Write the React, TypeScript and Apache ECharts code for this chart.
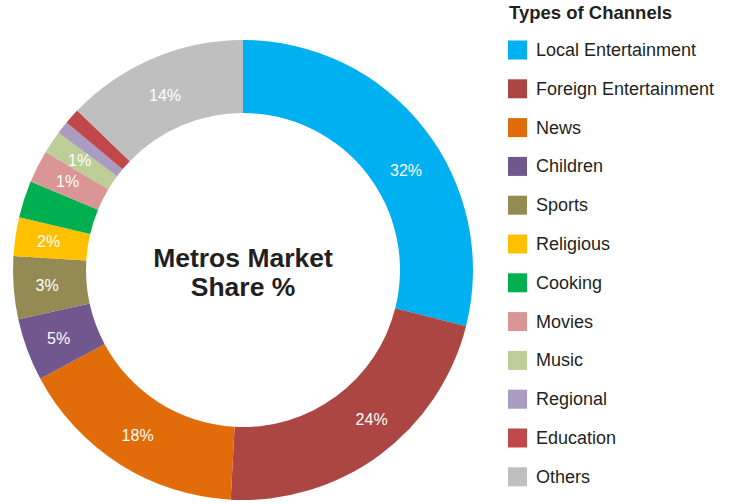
import React, { useEffect, useRef } from "react";
import * as echarts from "echarts";

const categories = [
  "Local Entertainment",
  "Foreign Entertainment",
  "News",
  "Children",
  "Sports",
  "Religious",
  "Cooking",
  "Movies",
  "Music",
  "Regional",
  "Education",
  "Others",
];
// slice sizes measured from the arc angles (percent of the circle)
const shares = [28.9, 21.9, 16.3, 4.4, 4.4, 2.7, 2.6, 2.3, 1.6, 0.9, 1.1, 12.8];
// labels printed on the slices
const sliceLabels = ["32%", "24%", "18%", "5%", "3%", "2%", "", "1%", "1%", "", "", "14%"];
const colors = [
  "#00B0F0",
  "#AB4643",
  "#E36C0A",
  "#70588F",
  "#948A54",
  "#FFC000",
  "#00B050",
  "#D99694",
  "#BCCD98",
  "#A99CC0",
  "#C0474A",
  "#BFBFBF",
];

const FONT = "'Liberation Sans', Arial, Helvetica, sans-serif";

// label position tweaks (layout only)
const labelNudge: Record<number, [number, number]> = {
  0: [8, 21],
  1: [12, -9],
  11: [-1, 6],
};

export default function App() {
  const ref = useRef<HTMLDivElement>(null);
  useEffect(() => {
    if (!ref.current) return;
    const chart = echarts.init(ref.current, undefined, { renderer: "svg" });
    chart.setOption({
      animation: false,
      color: colors,
      textStyle: { fontFamily: FONT },
      legend: {
        orient: "vertical",
        left: 508,
        top: 40.5,
        padding: 0,
        icon: "rect",
        itemWidth: 19,
        itemHeight: 19,
        itemGap: 19.8,
        selectedMode: false,
        data: categories,
        textStyle: {
          fontSize: 18,
          color: "#231F20",
          fontFamily: FONT,
          padding: [0, 0, 0, 4],
        },
      },
      graphic: [
        {
          type: "text",
          left: 509,
          top: 3,
          style: {
            text: "Types of Channels",
            fontSize: 18.5,
            fontWeight: "bold",
            fill: "#231F20",
            fontFamily: FONT,
          },
        },
        {
          type: "text",
          x: 243,
          y: 272.5,
          style: {
            text: "Metros Market\nShare %",
            fontSize: 26.5,
            lineHeight: 29,
            fontWeight: "bold",
            fill: "#231F20",
            align: "center",
            verticalAlign: "middle",
            fontFamily: FONT,
          },
        },
      ],
      series: [
        {
          type: "pie",
          center: [243, 270],
          radius: [157, 230],
          startAngle: 90,
          clockwise: true,
          avoidLabelOverlap: false,
          silent: true,
          itemStyle: { borderWidth: 0 },
          label: {
            show: true,
            position: "inside",
            color: "#FFFFFF",
            fontSize: 16,
            fontFamily: FONT,
            formatter: (p: any) => sliceLabels[p.dataIndex],
          },
          labelLine: { show: false },
          data: categories.map((name, i) => {
            const item: any = { name, value: shares[i] };
            if (labelNudge[i]) item.label = { offset: labelNudge[i] };
            return item;
          }),
        },
      ],
    });
    return () => chart.dispose();
  }, []);
  return (
    <div
      ref={ref}
      style={{ position: "absolute", left: 0, top: 0, width: 735, height: 504 }}
    />
  );
}
